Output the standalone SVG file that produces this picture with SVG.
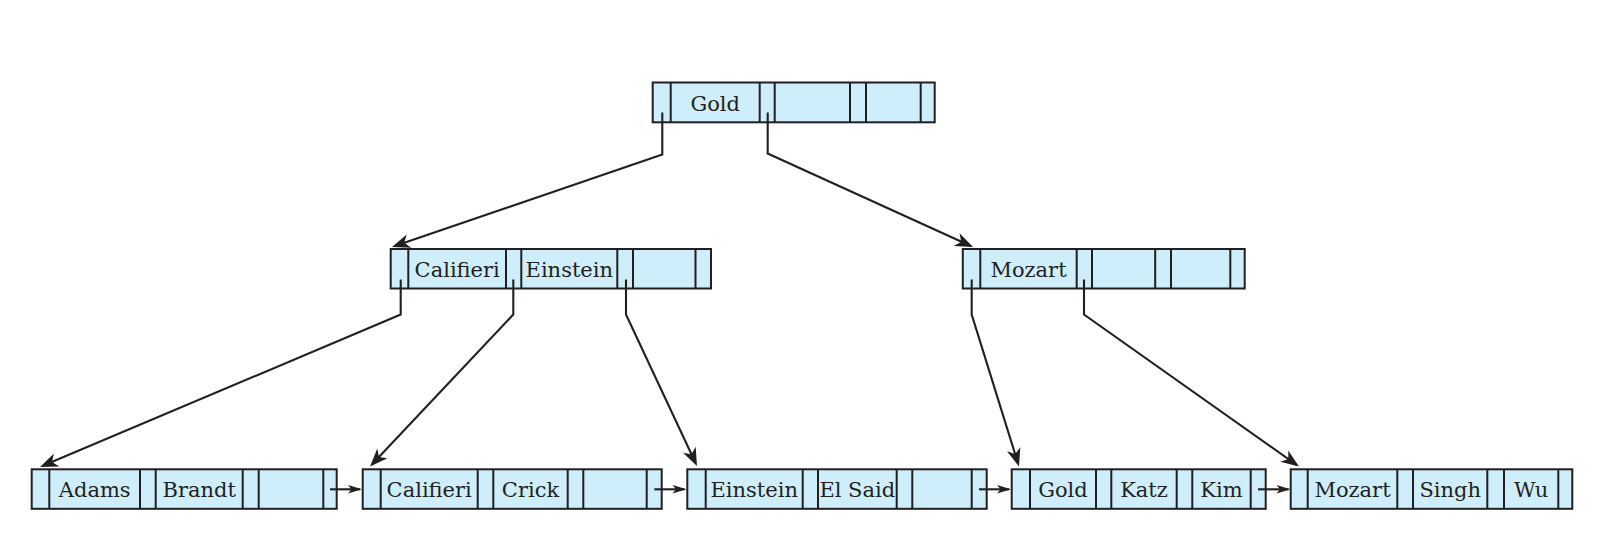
<svg xmlns="http://www.w3.org/2000/svg" width="1601" height="540" viewBox="0 0 1601 540">
<defs>
<style>
.box{fill:#cdeefa;stroke:#231f20;stroke-width:2}
.div{fill:none;stroke:#231f20;stroke-width:2}
.lbl{font-family:"DejaVu Serif","Liberation Serif",serif;font-size:21px;fill:#231f20;text-anchor:middle}
.con{fill:none;stroke:#231f20;stroke-width:2.1}
.big{marker-end:url(#ah)}
.small{marker-end:url(#as)}
</style>
<marker id="ah" markerUnits="userSpaceOnUse" orient="auto" markerWidth="26" markerHeight="18" viewBox="-22 -9 26 18" refX="-3" refY="0">
<path d="M0,0 L-18,-7 L-13,0 L-18,7 Z" fill="#231f20"/>
</marker>
<marker id="as" markerUnits="userSpaceOnUse" orient="auto" markerWidth="20" markerHeight="12" viewBox="-17 -6 20 12" refX="-2" refY="0">
<path d="M0,0 L-14,-4.3 L-10.5,0 L-14,4.3 Z" fill="#231f20"/>
</marker>
</defs>
<rect width="1601" height="540" fill="#ffffff"/>

<g id="root">
<rect class="box" x="652.7" y="82.5" width="282" height="39.8"/>
<path class="div" d="M670.7,82.5V122.3M759.7,82.5V122.3M774.7,82.5V122.3M850,82.5V122.3M866,82.5V122.3M920.7,82.5V122.3"/>
<text class="lbl" x="715.2" y="111">Gold</text>
</g>

<g id="inner-left">
<rect class="box" x="390.7" y="249" width="320.3" height="39.5"/>
<path class="div" d="M408.3,249V288.5M506,249V288.5M521.3,249V288.5M617.3,249V288.5M633,249V288.5M695.5,249V288.5"/>
<text class="lbl" x="457.2" y="276.7">Califieri</text>
<text class="lbl" x="569.3" y="276.7">Einstein</text>
</g>

<g id="inner-right">
<rect class="box" x="962.8" y="249" width="281.9" height="39.5"/>
<path class="div" d="M980.3,249V288.5M1076.7,249V288.5M1092,249V288.5M1155.2,249V288.5M1171,249V288.5M1230.3,249V288.5"/>
<text class="lbl" x="1028.5" y="276.7">Mozart</text>
</g>

<g id="leaf1">
<rect class="box" x="31.7" y="469.3" width="305" height="39.5"/>
<path class="div" d="M49.3,469.3V508.8M140,469.3V508.8M155.7,469.3V508.8M242.7,469.3V508.8M258.7,469.3V508.8M323.3,469.3V508.8"/>
<text class="lbl" x="94.7" y="497.3">Adams</text>
<text class="lbl" x="199.2" y="497.3">Brandt</text>
</g>

<g id="leaf2">
<rect class="box" x="362.7" y="469.3" width="299" height="39.5"/>
<path class="div" d="M380.7,469.3V508.8M477.7,469.3V508.8M493.3,469.3V508.8M567.7,469.3V508.8M583.3,469.3V508.8M646.7,469.3V508.8"/>
<text class="lbl" x="429.2" y="497.3">Califieri</text>
<text class="lbl" x="530.5" y="497.3">Crick</text>
</g>

<g id="leaf3">
<rect class="box" x="687.3" y="469.3" width="299.4" height="39.5"/>
<path class="div" d="M705.7,469.3V508.8M802.7,469.3V508.8M818,469.3V508.8M896.7,469.3V508.8M912.3,469.3V508.8M971.7,469.3V508.8"/>
<text class="lbl" x="754.2" y="497.3">Einstein</text>
<text class="lbl" x="857.3" y="497.3">El Said</text>
</g>

<g id="leaf4">
<rect class="box" x="1011.7" y="469.3" width="254" height="39.5"/>
<path class="div" d="M1030,469.3V508.8M1096,469.3V508.8M1111.3,469.3V508.8M1176.7,469.3V508.8M1192.3,469.3V508.8M1250.7,469.3V508.8"/>
<text class="lbl" x="1063" y="497.3">Gold</text>
<text class="lbl" x="1144" y="497.3">Katz</text>
<text class="lbl" x="1221.5" y="497.3">Kim</text>
</g>

<g id="leaf5">
<rect class="box" x="1290.7" y="469.3" width="281.6" height="39.5"/>
<path class="div" d="M1307.7,469.3V508.8M1397.3,469.3V508.8M1413,469.3V508.8M1487.3,469.3V508.8M1504,469.3V508.8M1558.3,469.3V508.8"/>
<text class="lbl" x="1352.5" y="497.3">Mozart</text>
<text class="lbl" x="1450.2" y="497.3">Singh</text>
<text class="lbl" x="1531.2" y="497.3">Wu</text>
</g>

<g id="connectors">
<path class="con big" d="M662.3,112.5 V154.5 L394.8,246"/>
<path class="con big" d="M767.7,112.5 V153.5 L970.3,245.8"/>
<path class="con big" d="M400.7,279.5 V314.5 L42.8,465.8"/>
<path class="con big" d="M513.3,279.5 V314.5 L372.1,464.3"/>
<path class="con big" d="M626,279.5 V314.5 L695.7,463.3"/>
<path class="con big" d="M971.7,279.5 V314.5 L1018.1,463.6"/>
<path class="con big" d="M1084,279.5 V314.5 L1296.5,464.8"/>
<path class="con small" d="M330,489.3 H360"/>
<path class="con small" d="M654.3,489.3 H684.5"/>
<path class="con small" d="M979,489.3 H1009"/>
<path class="con small" d="M1258,489.3 H1288.5"/>
</g>
</svg>
